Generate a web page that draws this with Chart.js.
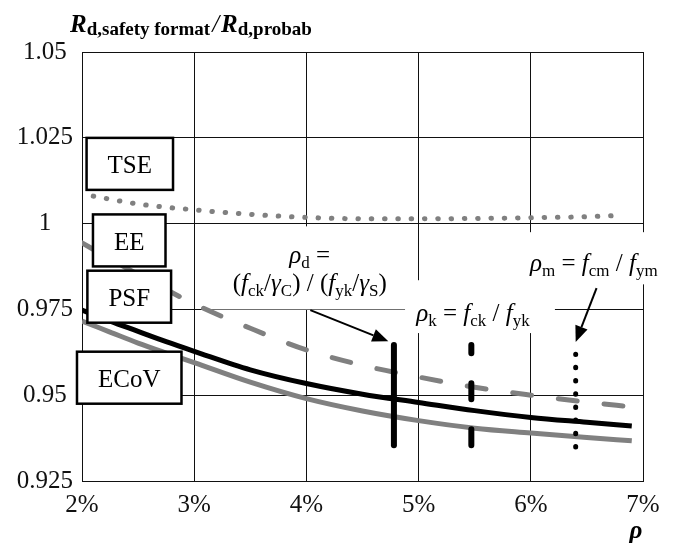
<!DOCTYPE html>
<html>
<head>
<meta charset="utf-8">
<script src="https://cdn.jsdelivr.net/npm/chart.js@4/dist/chart.umd.min.js"></script>
<style>
  html, body { margin: 0; padding: 0; background: #fff; }
  canvas { display: block; }
</style>
</head>
<body>
<canvas id="chart" width="678" height="549"></canvas>
<script>
// Reinforcement ratio rho (%) on x, ratio of design resistances on y
const rhoTSE   = [2.1, 2.5, 3.0, 3.5, 4.0, 4.5, 5.0, 5.5, 6.0, 6.5, 6.8];
const ratioTSE = [1.0080, 1.0057, 1.0040, 1.0027, 1.0018, 1.0014, 1.0014, 1.0015, 1.0017, 1.0020, 1.0024];

const rhoCurve  = [2.0, 2.25, 2.5, 2.75, 3.0, 3.5, 4.0, 4.5, 5.0, 5.5, 6.0, 6.5, 6.9];
const ratioEE   = [0.9944, 0.9897, 0.9852, 0.9808, 0.9766, 0.9695, 0.9632, 0.9587, 0.9553, 0.9523, 0.9500, 0.9480, 0.9466];
const ratioPSF  = [0.9748, 0.9716, 0.9686, 0.9656, 0.9628, 0.9574, 0.9534, 0.9503, 0.9479, 0.9455, 0.9435, 0.9421, 0.9410];
const ratioECoV = [0.9716, 0.9684, 0.9652, 0.9623, 0.9595, 0.9538, 0.9490, 0.9454, 0.9426, 0.9404, 0.9390, 0.9377, 0.9367];

// Reference reinforcement ratios and the vertical extent of their markers
const rhoDesign = 4.78;
const rhoCharac = 5.47;
const rhoMean   = 6.40;
const spanDesign = [0.9354, 0.9646];
const spanCharac = [0.9354, 0.9646];
const spanMean   = [0.9349, 0.9619];

// Axis ticks
const xTicks = [2, 3, 4, 5, 6, 7];
const xTickLabels = ['2%', '3%', '4%', '5%', '6%', '7%'];
const yTicks = [0.925, 0.95, 0.975, 1, 1.025, 1.05];
const yTickLabels = ['0.925', '0.95', '0.975', '1', '1.025', '1.05'];

const SERIF = '"Liberation Serif", "Times New Roman", serif';
const GREY = '#808080';

const pairs = (xs, ys) => xs.map((x, i) => ({ x, y: ys[i] }));
const vertical = (x, span) => [{ x, y: span[0] }, { x, y: span[1] }];

// ---- rich text helpers (italic symbols, subscripts) ----
const fontOf = r => `${r.i ? 'italic ' : ''}${r.b ? 'bold ' : ''}${r.s || 25}px ${SERIF}`;
function runsWidth(ctx, runs) {
  let w = 0;
  for (const r of runs) { ctx.font = fontOf(r); w += ctx.measureText(r.t).width + (r.gap || 0); }
  return w;
}
function drawRuns(ctx, runs, x, y, align) {
  const w = runsWidth(ctx, runs);
  let cx = align === 'center' ? x - w / 2 : x;
  ctx.textAlign = 'left';
  ctx.textBaseline = 'alphabetic';
  for (const r of runs) {
    ctx.font = fontOf(r);
    ctx.fillText(r.t, cx + (r.gap || 0) / 2, y + (r.dy || 0));
    cx += ctx.measureText(r.t).width + (r.gap || 0);
  }
}
const sub = t => ({ t, s: 17, dy: 5 });

// Series name tags (centre in data units)
const seriesTags = [
  { text: 'TSE',  at: [2.426, 1.0174] },
  { text: 'EE',   at: [2.421, 0.9951] },
  { text: 'PSF',  at: [2.421, 0.9787] },
  { text: 'ECoV', at: [2.421, 0.9551] }
];

// Notes for the reference ratios: text lines, white backing and arrows
const notes = [
  {
    lines: [
      { at: [4.03, 0.9886], runs: [{ t: 'ρ', i: 1 }, sub('d'), { t: ' =' }] },
      { at: [4.03, 0.9803], runs: [{ t: '(' }, { t: 'f', i: 1 }, sub('ck'), { t: '/' }, { t: 'γ', i: 1 }, sub('C'),
                                   { t: ') / (' }, { t: 'f', i: 1 }, sub('yk'), { t: '/' }, { t: 'γ', i: 1 }, sub('S'), { t: ')' }] }
    ],
    back: [[3.126, 4.879], [0.9750, 0.9992]]
  },
  {
    lines: [
      { at: [5.485, 0.9716], runs: [{ t: 'ρ', i: 1 }, sub('k'), { t: ' = ' }, { t: 'f', i: 1 }, sub('ck'), { t: ' / ' }, { t: 'f', i: 1 }, sub('yk')] }
    ],
    back: [[4.879, 6.215], [0.9681, 0.9835]]
  },
  {
    lines: [
      { at: [6.562, 0.9862], runs: [{ t: 'ρ', i: 1 }, sub('m'), { t: ' = ' }, { t: 'f', i: 1 }, sub('cm'), { t: ' / ' }, { t: 'f', i: 1 }, sub('ym')] }
    ],
    back: [[5.903, 7.221], [0.9823, 0.9975]]
  }
];
const arrows = [
  { from: [4.035, 0.9748], to: [4.73, 0.9657] },
  { from: [6.586, 0.9812], to: [6.40, 0.9655] }
];

const titleRuns = [
  { t: 'R', i: 1, b: 1 }, { t: 'd,safety format', b: 1, s: 19, dy: 3 },
  { t: '/', i: 1, gap: 4 },
  { t: 'R', i: 1, b: 1 }, { t: 'd,probab', b: 1, s: 19, dy: 3 }
];

const overlay = {
  id: 'overlay',
  beforeDatasetsDraw(chart) {
    const { ctx, scales: { x, y } } = chart;
    ctx.save();
    ctx.fillStyle = '#fff';
    for (const n of notes) {
      const x0 = x.getPixelForValue(n.back[0][0]), x1 = x.getPixelForValue(n.back[0][1]);
      const y0 = y.getPixelForValue(n.back[1][1]), y1 = y.getPixelForValue(n.back[1][0]);
      ctx.fillRect(x0, y0, x1 - x0, y1 - y0);
    }
    ctx.restore();
  },
  afterDatasetsDraw(chart) {
    const { ctx, chartArea, scales: { x, y } } = chart;
    ctx.save();
    ctx.fillStyle = '#000';

    // note texts
    for (const n of notes) {
      for (const l of n.lines) {
        drawRuns(ctx, l.runs, x.getPixelForValue(l.at[0]), y.getPixelForValue(l.at[1]), 'center');
      }
    }

    // arrows
    ctx.strokeStyle = '#000';
    ctx.lineWidth = 2;
    for (const a of arrows) {
      const x0 = x.getPixelForValue(a.from[0]), y0 = y.getPixelForValue(a.from[1]);
      const x1 = x.getPixelForValue(a.to[0]), y1 = y.getPixelForValue(a.to[1]);
      const ang = Math.atan2(y1 - y0, x1 - x0);
      const len = 16, half = 6.5;
      const bx = x1 - len * Math.cos(ang), by = y1 - len * Math.sin(ang);
      ctx.beginPath();
      ctx.moveTo(x0, y0);
      ctx.lineTo(bx, by);
      ctx.stroke();
      ctx.beginPath();
      ctx.moveTo(x1, y1);
      ctx.lineTo(bx + half * Math.sin(ang), by - half * Math.cos(ang));
      ctx.lineTo(bx - half * Math.sin(ang), by + half * Math.cos(ang));
      ctx.closePath();
      ctx.fill();
    }

    // series name tags
    ctx.font = `25px ${SERIF}`;
    for (const t of seriesTags) {
      const cx = x.getPixelForValue(t.at[0]), cy = y.getPixelForValue(t.at[1]);
      const w = ctx.measureText(t.text).width + 42, h = 52;
      ctx.fillStyle = '#fff';
      ctx.fillRect(cx - w / 2, cy - h / 2, w, h);
      ctx.lineWidth = 2.5;
      ctx.strokeStyle = '#000';
      ctx.strokeRect(cx - w / 2, cy - h / 2, w, h);
      ctx.fillStyle = '#000';
      ctx.textAlign = 'center';
      ctx.textBaseline = 'alphabetic';
      ctx.fillText(t.text, cx, cy + 9.5);
    }

    // axis titles
    drawRuns(ctx, titleRuns, chartArea.left - 12, chartArea.top - 20, 'left');
    drawRuns(ctx, [{ t: 'ρ', i: 1, b: 1 }], chartArea.right - 7, chartArea.bottom + 57, 'center');
    ctx.restore();
  }
};

const tickFont = { family: SERIF, size: 25 };

new Chart(document.getElementById('chart'), {
  type: 'line',
  data: {
    datasets: [
      { label: 'rho_d', data: vertical(rhoDesign, spanDesign), borderColor: '#000', borderWidth: 6,
        borderCapStyle: 'round', order: 0 },
      { label: 'rho_k', data: vertical(rhoCharac, spanCharac), borderColor: '#000', borderWidth: 6,
        borderDash: [16, 30], borderCapStyle: 'round', order: 0 },
      { label: 'rho_m', data: vertical(rhoMean, spanMean), borderColor: '#000', borderWidth: 5,
        borderDash: [0.5, 12.7], borderCapStyle: 'round', order: 0 },
      { label: 'PSF', data: pairs(rhoCurve, ratioPSF), borderColor: '#000', borderWidth: 5,
        cubicInterpolationMode: 'monotone', order: 1 },
      { label: 'ECoV', data: pairs(rhoCurve, ratioECoV), borderColor: GREY, borderWidth: 5,
        cubicInterpolationMode: 'monotone', order: 2 },
      { label: 'EE', data: pairs(rhoCurve, ratioEE), borderColor: GREY, borderWidth: 5,
        borderDash: [19, 27], borderCapStyle: 'round', cubicInterpolationMode: 'monotone', order: 3 },
      { label: 'TSE', data: pairs(rhoTSE, ratioTSE), borderColor: GREY, borderWidth: 5,
        borderDash: [0.5, 12.8], borderCapStyle: 'round', cubicInterpolationMode: 'monotone', order: 4 }
    ]
  },
  options: {
    responsive: false,
    animation: false,
    devicePixelRatio: 1,
    layout: { padding: { top: 52, right: 35, left: 0, bottom: 0 } },
    elements: { point: { radius: 0, hoverRadius: 0 }, line: { fill: false } },
    plugins: { legend: { display: false }, tooltip: { enabled: false }, title: { display: false } },
    events: [],
    scales: {
      x: {
        type: 'linear', min: 2, max: 7,
        grid: { color: '#111', lineWidth: 1, drawTicks: false },
        border: { color: '#111', width: 1 },
        ticks: { font: tickFont, color: '#111', padding: 9, maxRotation: 0,
                 callback: (v, i) => xTickLabels[i] },
        afterBuildTicks: s => { s.ticks = xTicks.map(v => ({ value: v })); },
        afterFit: s => { s.height = 68; }
      },
      y: {
        type: 'linear', min: 0.925, max: 1.05,
        grid: { color: '#111', lineWidth: 1, drawTicks: false },
        border: { color: '#111', width: 1 },
        ticks: { font: tickFont, color: '#111', padding: 9, crossAlign: 'center',
                 callback: (v, i) => yTickLabels[i] },
        afterBuildTicks: s => { s.ticks = yTicks.map(v => ({ value: v })); },
        afterFit: s => { s.width = 82; }
      }
    }
  },
  plugins: [overlay]
});
</script>
</body>
</html>
